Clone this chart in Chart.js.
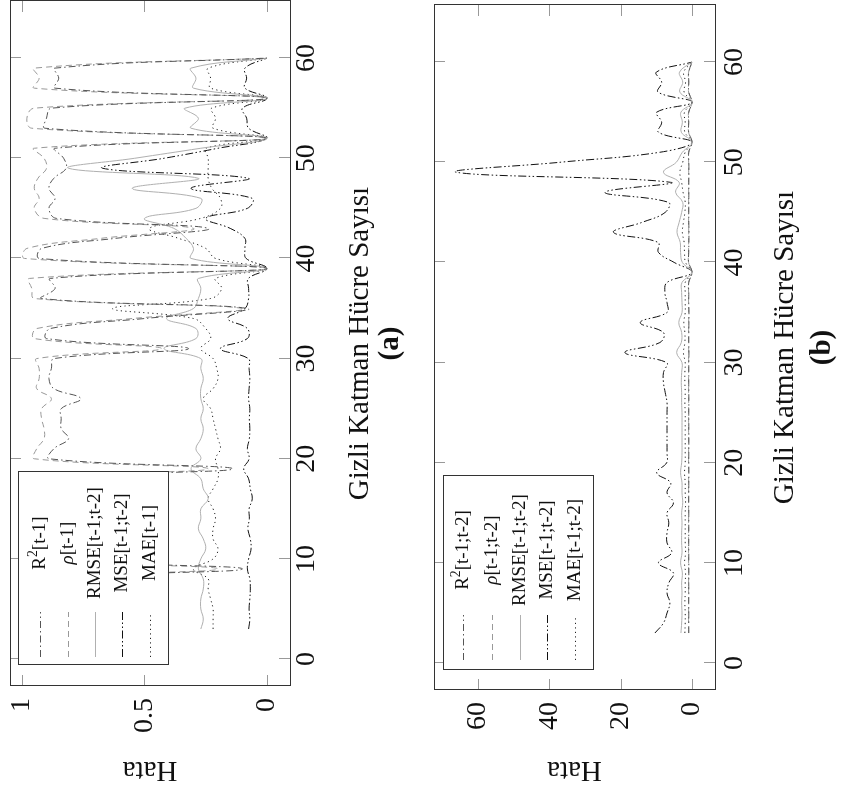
<!DOCTYPE html>
<html>
<head>
<meta charset="utf-8">
<script src="https://cdn.jsdelivr.net/npm/chart.js@4.4.1/dist/chart.umd.min.js"></script>
<style>
  html, body { margin: 0; padding: 0; background: #fff; overflow: hidden; }
  /* the figure is drawn upright and then turned a quarter turn to the left */
  #page { position: absolute; left: 0; top: 0; width: 791px; height: 842px;
          transform-origin: 0 0; transform: translateY(791px) rotate(-90deg); }
  canvas { position: absolute; left: 0; }
  #chartA { top: 0; }
  #chartB { top: 420px; }
</style>
</head>
<body>
<div id="page">
  <canvas id="chartA" width="791" height="420"></canvas>
  <canvas id="chartB" width="791" height="422"></canvas>
</div>
<script>
// hidden layer cell counts
const units = [3, 4, 5, 6, 7, 8, 9, 10, 11, 12, 13, 14, 15, 16, 17, 18, 19, 20,
  21, 22, 23, 24, 25, 26, 27, 28, 29, 30, 31, 32, 33, 34, 35, 36, 37, 38, 39, 40,
  41, 42, 43, 44, 45, 46, 47, 48, 49, 50, 51, 52, 53, 54, 55, 56, 57, 58, 59, 60];

// panel (a)
const r2A = [0.87, 0.88, 0.86, 0.89, 0.87, 0.88, 0.10, 0.88, 0.87, 0.89, 0.86, 0.88, 0.87, 0.89, 0.88, 0.87,
  0.14,
  0.89, 0.87, 0.81, 0.84, 0.84, 0.84, 0.76, 0.87, 0.89, 0.88, 0.87,
  0.32, 0.90, 0.885, 0.50, 0.08, 0.92, 0.865, 0.885, 0, 0.93, 0.92, 0.62, 0.24, 0.86, 0.89, 0.865,
  0.89, 0.87, 0.82, 0.83, 0.865, 0, 0.906, 0.90, 0.88, 0, 0.865, 0.85, 0.865, 0];
const rhoA = [0.93, 0.94, 0.92, 0.95, 0.93, 0.94, 0.20, 0.94, 0.93, 0.95, 0.92, 0.94, 0.93, 0.95, 0.94, 0.93,
  0.24,
  0.95, 0.94, 0.91, 0.91, 0.92, 0.92, 0.88, 0.94, 0.93, 0.93, 0.94,
  0.43, 0.95, 0.94, 0.55, 0.10, 0.95, 0.96, 0.97, 0, 0.99, 0.98, 0.68, 0.30, 0.91, 0.95, 0.93,
  0.95, 0.935, 0.90, 0.91, 0.95, 0, 0.96, 0.98, 0.95, 0, 0.95, 0.93, 0.95, 0];
const rmseA = [0.27, 0.26, 0.27, 0.27, 0.26, 0.26, 0.28, 0.27, 0.25, 0.26, 0.28, 0.27, 0.27, 0.24, 0.26, 0.27,
  0.31,
  0.27, 0.29, 0.27, 0.26, 0.27, 0.26, 0.27, 0.27, 0.26, 0.27, 0.27,
  0.42, 0.29, 0.29, 0.41, 0.30, 0.28, 0.27, 0.28, 0, 0.31, 0.30, 0.33, 0.38, 0.50, 0.29, 0.27,
  0.55, 0.28, 0.81, 0.54, 0.27, 0, 0.31, 0.28, 0.335, 0, 0.30, 0.29, 0.31, 0];
const mseA = [0.075, 0.07, 0.073, 0.07, 0.068, 0.07, 0.08, 0.075, 0.065, 0.068, 0.078, 0.072, 0.073, 0.06, 0.068, 0.075,
  0.095,
  0.073, 0.08, 0.072, 0.07, 0.072, 0.07, 0.075, 0.073, 0.07, 0.073, 0.076,
  0.19, 0.08, 0.08, 0.16, 0.09, 0.075, 0.075, 0.076, 0, 0.085, 0.09, 0.09, 0.15, 0.25, 0.08, 0.06,
  0.31, 0.076, 0.67, 0.42, 0.20, 0, 0.075, 0.083, 0.10, 0, 0.09, 0.083, 0.09, 0];
const maeA = [0.22, 0.22, 0.22, 0.23, 0.24, 0.24, 0.30, 0.22, 0.20, 0.22, 0.22, 0.21, 0.22, 0.24, 0.22, 0.20,
  0.20,
  0.21, 0.19, 0.20, 0.21, 0.22, 0.23, 0.26, 0.22, 0.20, 0.205, 0.22,
  0.27, 0.23, 0.25, 0.30, 0.63, 0.23, 0.185, 0.21, 0, 0.21, 0.25, 0.36, 0.48, 0.27, 0.19, 0.19,
  0.225, 0.24, 0.24, 0.24, 0.25, 0, 0.22, 0.21, 0.226, 0, 0.23, 0.23, 0.24, 0];

// panel (b)
const r2B = [0.90, 0.91, 0.90, 0.92, 0.90, 0.91, 0.89, 0.90, 0.91, 0.92, 0.90, 0.91, 0.90, 0.92, 0.91, 0.90,
  0.88,
  0.91, 0.90, 0.89, 0.90, 0.90, 0.91, 0.88, 0.90, 0.91, 0.90, 0.90,
  0.86, 0.91, 0.90, 0.87, 0.85, 0.92, 0.90, 0.91, 0, 0.93, 0.92, 0.88, 0.85, 0.90, 0.91, 0.90,
  0.89, 0.90, 0.87, 0.88, 0.90, 0, 0.92, 0.91, 0.90, 0, 0.90, 0.89, 0.90, 0];
const rhoB = [0.95, 0.96, 0.95, 0.96, 0.95, 0.95, 0.94, 0.95, 0.96, 0.96, 0.95, 0.95, 0.95, 0.96, 0.95, 0.95,
  0.94,
  0.96, 0.95, 0.94, 0.95, 0.95, 0.95, 0.94, 0.95, 0.96, 0.95, 0.95,
  0.93, 0.95, 0.95, 0.93, 0.92, 0.96, 0.95, 0.95, 0, 0.96, 0.96, 0.94, 0.92, 0.95, 0.95, 0.95,
  0.94, 0.95, 0.93, 0.94, 0.95, 0, 0.96, 0.95, 0.95, 0, 0.95, 0.94, 0.95, 0];
const rmseB = [3.1, 2.9, 2.8, 2.9, 2.8, 2.9, 2.7, 3.2, 2.8, 2.9, 2.9, 2.8, 2.9, 2.6, 2.8, 2.8,
  3.2,
  2.9, 2.8, 2.8, 2.8, 2.8, 2.8, 2.9, 2.9, 3.0, 2.9, 2.8,
  4.3, 3.0, 2.9, 3.7, 2.8, 2.8, 2.9, 2.8, 0, 2.7, 3.2, 3.3, 4.2, 3.6, 2.9, 2.6,
  4.6, 3.6, 8.0, 4.4, 2.7, 0, 3.0, 2.7, 3.1, 0, 3.4, 2.6, 3.5, 0];
const mseB = [10.4, 8, 7, 6.2, 7, 6.5, 5.2, 9.4, 5.7, 7, 7, 6.5, 7, 5.2, 7, 6,
  9.9,
  7.1, 7, 7, 7, 7, 7, 7, 7.5, 8, 8, 7.1,
  18.8, 9, 8, 14.5, 7, 7, 7.6, 7, 0, 5, 9.4, 9.5, 22, 14, 7.5, 6.6,
  24.4, 6, 66, 37, 9, 0, 9.4, 8.5, 9.9, 0, 9.5, 8.5, 10, 0];
const maeB = [2.0, 1.9, 1.9, 2.0, 1.9, 1.9, 1.8, 2.1, 1.8, 1.9, 1.9, 1.9, 1.9, 1.8, 1.9, 1.9,
  2.1,
  1.9, 1.9, 1.9, 1.9, 1.9, 1.9, 2.0, 1.9, 2.0, 2.0, 1.9,
  2.4, 2.0, 2.0, 2.3, 1.9, 1.9, 1.9, 1.9, 0, 1.8, 2.1, 2.2, 2.7, 2.4, 2.0, 1.9,
  2.5, 2.9, 3.4, 2.6, 1.9, 0, 2.0, 1.9, 2.1, 0, 2.2, 1.8, 2.3, 0];

// axis ticks and texts
const unitTicks = [0, 10, 20, 30, 40, 50, 60];
const errTicksA = [0, 0.5, 1];
const errTicksB = [0, 20, 40, 60];
const legendA = ['R²[t-1]', 'ρ[t-1]', 'RMSE[t-1;t-2]', 'MSE[t-1;t-2]', 'MAE[t-1]'];
const legendB = ['R²[t-1;t-2]', 'ρ[t-1;t-2]', 'RMSE[t-1;t-2]', 'MSE[t-1;t-2]', 'MAE[t-1;t-2]'];
const unitTitle = 'Gizli Katman Hücre Sayısı';
const errTitle = 'Hata';

const FONT = '"Liberation Serif", "DejaVu Serif", serif';

const styles = [
  { color: '#555', dash: [7, 3, 1.5, 3] },
  { color: '#999', dash: [6, 4] },
  { color: '#b0b0b0', dash: [] },
  { color: '#111', dash: [8, 2.5, 1.5, 2.5, 1.5, 2.5] },
  { color: '#222', dash: [1.2, 3.3] }
];

function drawLegendText(ctx, text, cx, cy, size) {
  // R² gets a raised 2, ρ is set in italics
  let parts;
  if (text.startsWith('R²')) parts = [['R', ''], ['2', 'sup'], [text.slice(2), '']];
  else if (text.startsWith('ρ')) parts = [['ρ', 'it'], [text.slice(1), '']];
  else parts = [[text, '']];
  const fontOf = k => k === 'sup' ? `${size * 0.72}px ${FONT}` : k === 'it' ? `italic ${size}px ${FONT}` : `${size}px ${FONT}`;
  let w = 0;
  parts.forEach(p => { ctx.font = fontOf(p[1]); w += ctx.measureText(p[0]).width; });
  let x = cx - w / 2;
  ctx.textAlign = 'left';
  ctx.textBaseline = 'middle';
  parts.forEach(p => {
    ctx.font = fontOf(p[1]);
    ctx.fillText(p[0], x, p[1] === 'sup' ? cy - size * 0.33 : cy);
    x += ctx.measureText(p[0]).width;
  });
}

const framePlugin = {
  id: 'frame',
  beforeDraw(chart) {
    const ctx = chart.ctx;
    ctx.save();
    ctx.fillStyle = '#fff';
    ctx.fillRect(0, 0, chart.width, chart.height);
    ctx.restore();
  },
  afterDatasetsDraw(chart, args, o) {
    const { ctx, chartArea: a, scales: { x, y } } = chart;
    ctx.save();
    // inner tick marks on all four sides
    ctx.strokeStyle = '#999';
    ctx.lineWidth = 1;
    ctx.beginPath();
    unitTicks.forEach(t => {
      const px = Math.round(x.getPixelForValue(t)) + 0.5;
      ctx.moveTo(px, a.top); ctx.lineTo(px, a.top + 11);
      ctx.moveTo(px, a.bottom); ctx.lineTo(px, a.bottom - 11);
    });
    o.errTicks.forEach(t => {
      const py = Math.round(y.getPixelForValue(t)) + 0.5;
      ctx.moveTo(a.left, py); ctx.lineTo(a.left + 11, py);
      ctx.moveTo(a.right, py); ctx.lineTo(a.right - 11, py);
    });
    ctx.stroke();
    ctx.strokeStyle = '#333';
    ctx.strokeRect(Math.round(a.left) + 0.5, Math.round(a.top) + 0.5,
      Math.round(a.right - a.left), Math.round(a.bottom - a.top));

    // legend
    const L = o.legend;
    ctx.fillStyle = '#fff';
    ctx.fillRect(L.x0, L.y0, L.x1 - L.x0, L.y1 - L.y0);
    ctx.strokeStyle = '#333';
    ctx.setLineDash([]);
    ctx.strokeRect(L.x0 + 0.5, L.y0 + 0.5, L.x1 - L.x0, L.y1 - L.y0);
    ctx.fillStyle = '#111';
    o.labels.forEach((lab, i) => {
      const ry = L.rows[i];
      ctx.strokeStyle = styles[i].color;
      ctx.setLineDash(styles[i].dash);
      ctx.beginPath();
      ctx.moveTo(L.s0, ry + 0.5); ctx.lineTo(L.s1, ry + 0.5);
      ctx.stroke();
      ctx.setLineDash([]);
      drawLegendText(ctx, lab, L.tx, ry, L.size);
    });

    // tick labels
    ctx.fillStyle = '#111';
    ctx.font = `28px ${FONT}`;
    ctx.textAlign = 'center';
    ctx.textBaseline = 'middle';
    unitTicks.forEach(t => ctx.fillText(String(t), x.getPixelForValue(t), a.bottom + o.tickGap));
    ctx.textAlign = 'right';
    o.errTicks.forEach(t => ctx.fillText(String(t), a.left - 12, y.getPixelForValue(t)));

    // axis titles and panel tag
    const cx = (a.left + a.right) / 2;
    ctx.font = `29px ${FONT}`;
    ctx.textAlign = 'center';
    ctx.fillText(unitTitle, cx, a.bottom + 70);
    ctx.font = `bold 29px ${FONT}`;
    ctx.fillText(o.tag, cx, a.bottom + o.tagGap);
    ctx.font = `29px ${FONT}`;
    ctx.translate(21, (a.top + a.bottom) / 2);
    ctx.rotate(-Math.PI / 2);
    ctx.fillText(errTitle, 0, 0);
    ctx.restore();
  }
};

function makePanel(id, series, cfg) {
  const datasets = series.map((vals, i) => ({
    label: cfg.labels[i],
    data: units.map((n, k) => ({ x: n, y: vals[k] })),
    borderColor: styles[i].color,
    borderDash: styles[i].dash,
    borderWidth: 1,
    pointRadius: 0,
    showLine: true,
    fill: false,
    tension: 0.4
  }));
  return new Chart(document.getElementById(id), {
    type: 'scatter',
    data: { datasets },
    options: {
      responsive: false,
      animation: false,
      devicePixelRatio: 1,
      layout: { padding: cfg.padding },
      scales: {
        x: { type: 'linear', display: false, min: -2.69, max: 65.7 },
        y: { type: 'linear', display: false, min: cfg.yMin, max: cfg.yMax }
      },
      plugins: {
        legend: { display: false },
        tooltip: { enabled: false },
        frame: cfg
      }
    },
    plugins: [framePlugin]
  });
}

makePanel('chartA', [r2A, rhoA, rmseA, mseA, maeA], {
  padding: { left: 105, top: 10, right: 1, bottom: 130 },
  yMin: -0.094, yMax: 1.049,
  errTicks: errTicksA,
  labels: legendA,
  tag: '(a)',
  tickGap: 17,
  tagGap: 101,
  legend: { x0: 126, x1: 319, y0: 18, y1: 168, rows: [40, 68, 95, 122, 150], s0: 134, s1: 179, tx: 248, size: 19 }
});

makePanel('chartB', [r2B, rhoB, rmseB, mseB, maeB], {
  padding: { left: 101, top: 14, right: 5, bottom: 127 },
  yMin: -6.45, yMax: 72.33,
  errTicks: errTicksB,
  labels: legendB,
  tag: '(b)',
  tickGap: 20,
  tagGap: 108,
  legend: { x0: 121, x1: 315, y0: 23, y1: 173, rows: [43, 72, 100, 127, 155], s0: 131, s1: 176, tx: 241, size: 19 }
});
</script>
</body>
</html>
